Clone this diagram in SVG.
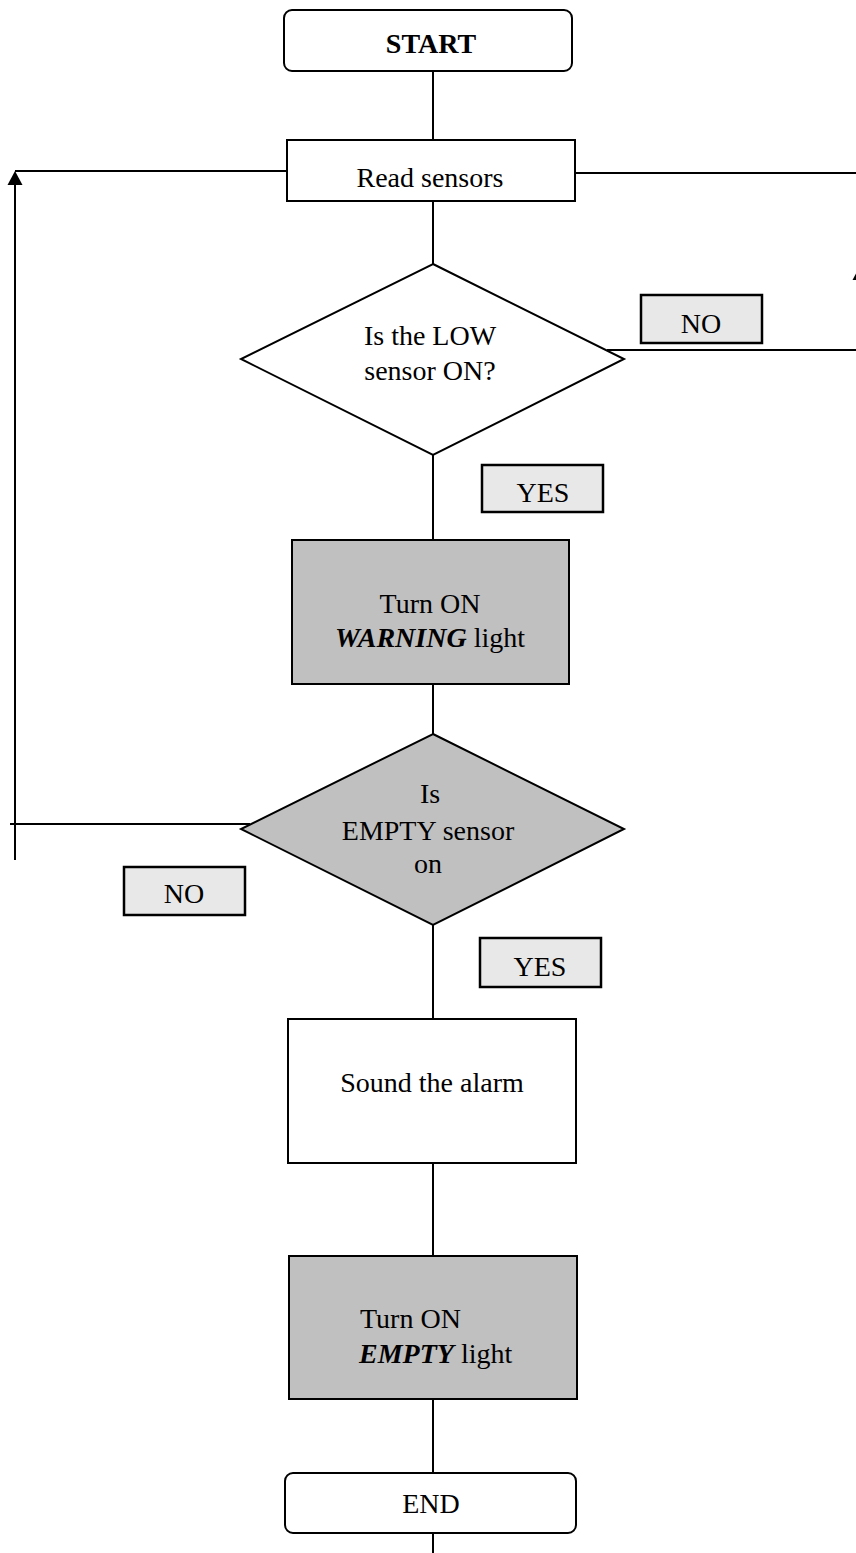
<svg xmlns="http://www.w3.org/2000/svg" width="856" height="1553" viewBox="0 0 856 1553">
<style>
.s{stroke:#000;stroke-width:2;fill:none}
.w{fill:#fff;stroke:#000;stroke-width:2}
.g{fill:#c0c0c0;stroke:#000;stroke-width:2}
.l{fill:#e8e8e8;stroke:#000;stroke-width:2.5}
text{font-family:"Liberation Serif","Times New Roman",serif;font-size:28px;fill:#000}
.c{text-anchor:middle}
</style>
<defs>
<marker id="ah" markerWidth="15" markerHeight="14" refX="7.5" refY="0" orient="auto-start-reverse" markerUnits="userSpaceOnUse" viewBox="0 0 15 14">
<path d="M0,14 L7.5,0 L15,14 Z" fill="#000"/>
</marker>
</defs>
<g id="connectors">
<line class="s" x1="433" y1="71" x2="433" y2="140"/>
<line class="s" x1="433" y1="201" x2="433" y2="264"/>
<line class="s" x1="433" y1="455" x2="433" y2="540"/>
<line class="s" x1="433" y1="684" x2="433" y2="734"/>
<line class="s" x1="433" y1="925" x2="433" y2="1019"/>
<line class="s" x1="433" y1="1163" x2="433" y2="1256"/>
<line class="s" x1="433" y1="1399" x2="433" y2="1473"/>
<line class="s" x1="433" y1="1533" x2="433" y2="1553"/>
<line class="s" x1="287" y1="171" x2="15" y2="171"/>
<path class="s" d="M15,860 L15,185"/>
<path d="M7.5,185 L15,171 L22.5,185 Z" fill="#000"/>
<line class="s" x1="10" y1="824" x2="250" y2="824"/>
<line class="s" x1="575" y1="173" x2="860" y2="173"/>
<line class="s" x1="607" y1="350" x2="860" y2="350"/>
<path d="M852.5,280 L860,266 L867.5,280 Z" fill="#000"/>
</g>
<g id="start">
<rect class="w" x="284" y="10" width="288" height="61" rx="8"/>
<text class="c" x="431" y="53" font-weight="bold">START</text>
</g>
<g id="read">
<rect class="w" x="287" y="140" width="288" height="61"/>
<text class="c" x="430" y="187">Read sensors</text>
</g>
<g id="low">
<polygon class="w" points="433,264 624,359 433,455 241,359"/>
<text class="c" x="430" y="345">Is the LOW</text>
<text class="c" x="430" y="380">sensor ON?</text>
</g>
<g id="no1">
<rect class="l" x="641" y="295" width="121" height="48"/>
<text class="c" x="701" y="333">NO</text>
</g>
<g id="yes1">
<rect class="l" x="482" y="465" width="121" height="47"/>
<text class="c" x="543" y="502">YES</text>
</g>
<g id="warning">
<rect class="g" x="292" y="540" width="277" height="144"/>
<text class="c" x="430" y="613">Turn ON</text>
<text class="c" x="430" y="647"><tspan font-weight="bold" font-style="italic">WARNING</tspan> light</text>
</g>
<g id="empty">
<polygon class="g" points="433,734 624,829 433,925 241,829"/>
<text class="c" x="430" y="803">Is</text>
<text class="c" x="428" y="840">EMPTY sensor</text>
<text class="c" x="428" y="873">on</text>
</g>
<g id="no2">
<rect class="l" x="124" y="867" width="121" height="48"/>
<text class="c" x="184" y="903">NO</text>
</g>
<g id="yes2">
<rect class="l" x="480" y="938" width="121" height="49"/>
<text class="c" x="540" y="976">YES</text>
</g>
<g id="alarm">
<rect class="w" x="288" y="1019" width="288" height="144"/>
<text class="c" x="432" y="1092">Sound the alarm</text>
</g>
<g id="emptylight">
<rect class="g" x="289" y="1256" width="288" height="143"/>
<text x="360" y="1328">Turn ON</text>
<text x="359" y="1363"><tspan font-weight="bold" font-style="italic">EMPTY</tspan> light</text>
</g>
<g id="end">
<rect class="w" x="285" y="1473" width="291" height="60" rx="8"/>
<text class="c" x="431" y="1513">END</text>
</g>
</svg>
